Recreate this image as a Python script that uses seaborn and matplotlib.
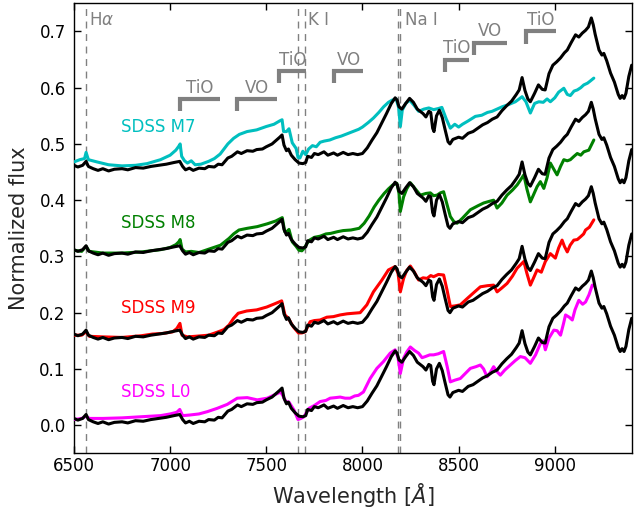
import matplotlib
matplotlib.use("Agg")
import matplotlib.pyplot as plt
import seaborn as sns
import numpy as np

# ---------------- data ----------------
# field spectrum (black), shown at the level of the L0 comparison
wave_obj = [6500, 6520, 6545, 6563, 6575, 6600, 6625, 6650, 6680, 6710, 6750, 6780, 6820, 6860,
            6900, 6940, 6980, 7020, 7050, 7065, 7080, 7100, 7120, 7150, 7180, 7200, 7230, 7250,
            7270, 7300, 7320, 7350, 7370, 7400, 7430, 7450, 7480, 7500, 7530, 7550, 7570, 7582,
            7592, 7605, 7615, 7630, 7650, 7670, 7690, 7705, 7715, 7735, 7750, 7770, 7800, 7820,
            7850, 7870, 7900, 7925, 7950, 7975, 8000, 8025, 8050, 8075, 8100, 8125, 8150, 8170,
            8180, 8190, 8205, 8225, 8245, 8265, 8285, 8300, 8315, 8330, 8345, 8355, 8365, 8372,
            8385, 8400, 8415, 8430, 8445, 8455, 8470, 8500, 8520, 8550, 8575, 8600, 8625, 8650,
            8675, 8700, 8725, 8750, 8775, 8800, 8815, 8830, 8845, 8860, 8873, 8895, 8915, 8935,
            8950, 8970, 8990, 9010, 9030, 9050, 9065, 9085, 9108, 9125, 9143, 9160, 9175, 9190,
            9200, 9210, 9230, 9245, 9255, 9270, 9290, 9310, 9330, 9340, 9350, 9360, 9370, 9385,
            9400]
flux_obj = [0.012, 0.009, 0.012, 0.019, 0.010, 0.006, 0.003, 0.006, 0.002, 0.005, 0.006, 0.004,
            0.008, 0.007, 0.010, 0.012, 0.014, 0.017, 0.019, 0.010, 0.004, 0.007, 0.003, 0.007,
            0.006, 0.010, 0.009, 0.014, 0.013, 0.025, 0.028, 0.036, 0.033, 0.038, 0.037, 0.040,
            0.041, 0.045, 0.050, 0.056, 0.062, 0.066, 0.048, 0.038, 0.041, 0.030, 0.022, 0.016,
            0.015, 0.017, 0.028, 0.026, 0.033, 0.031, 0.036, 0.030, 0.034, 0.030, 0.035, 0.031,
            0.033, 0.031, 0.033, 0.043, 0.057, 0.070, 0.087, 0.104, 0.122, 0.132, 0.128, 0.116,
            0.112, 0.122, 0.131, 0.124, 0.112, 0.108, 0.104, 0.098, 0.108, 0.106, 0.078, 0.072,
            0.100, 0.110, 0.097, 0.075, 0.054, 0.050, 0.058, 0.062, 0.060, 0.069, 0.072, 0.078,
            0.084, 0.088, 0.094, 0.098, 0.109, 0.118, 0.126, 0.138, 0.146, 0.168, 0.145, 0.130,
            0.125, 0.140, 0.155, 0.147, 0.146, 0.175, 0.190, 0.196, 0.203, 0.212, 0.217, 0.230,
            0.244, 0.240, 0.247, 0.252, 0.258, 0.274, 0.262, 0.245, 0.217, 0.208, 0.211, 0.198,
            0.176, 0.160, 0.138, 0.131, 0.136, 0.131, 0.140, 0.170, 0.190]
obj_offsets = [0.45, 0.30, 0.15, 0.0]

wave_m7 = [6500, 6530, 6555, 6563, 6575, 6620, 6680, 6750, 6820, 6880, 6950, 7000, 7030, 7045,
           7052, 7060, 7075, 7090, 7110, 7130, 7160, 7200, 7230, 7260, 7300, 7330, 7360, 7400,
           7450, 7500, 7540, 7570, 7582, 7590, 7605, 7618, 7635, 7655, 7665, 7675, 7690, 7705,
           7720, 7740, 7760, 7780, 7800, 7830, 7860, 7890, 7920, 7950, 7980, 8000, 8030, 8057,
           8085, 8110, 8135, 8155, 8175, 8188, 8197, 8207, 8225, 8245, 8270, 8292, 8320, 8345,
           8370, 8395, 8413, 8435, 8457, 8480, 8500, 8520, 8550, 8587, 8620, 8650, 8674, 8700,
           8726, 8760, 8795, 8815, 8830, 8850, 8873, 8895, 8917, 8940, 8960, 8977, 9000, 9020,
           9047, 9065, 9081, 9100, 9117, 9135, 9151, 9170, 9185, 9203]
flux_m7 = [0.468, 0.472, 0.474, 0.485, 0.472, 0.468, 0.463, 0.461, 0.462, 0.465, 0.472, 0.480,
           0.489, 0.496, 0.500, 0.478, 0.470, 0.466, 0.470, 0.463, 0.464, 0.469, 0.474, 0.482,
           0.500, 0.510, 0.517, 0.522, 0.525, 0.531, 0.535, 0.541, 0.543, 0.522, 0.522, 0.527,
           0.502, 0.492, 0.476, 0.475, 0.487, 0.481, 0.491, 0.497, 0.495, 0.503, 0.505, 0.507,
           0.511, 0.514, 0.518, 0.522, 0.526, 0.530, 0.538, 0.546, 0.556, 0.566, 0.574, 0.578,
           0.580, 0.565, 0.531, 0.560, 0.572, 0.578, 0.568, 0.558, 0.562, 0.564, 0.561, 0.563,
           0.565, 0.545, 0.528, 0.535, 0.530, 0.535, 0.541, 0.549, 0.551, 0.556, 0.558, 0.562,
           0.566, 0.570, 0.575, 0.580, 0.584, 0.575, 0.555, 0.572, 0.575, 0.574, 0.580, 0.575,
           0.582, 0.592, 0.599, 0.588, 0.586, 0.594, 0.596, 0.600, 0.605, 0.608, 0.612, 0.617]

wave_m8 = [6500, 6540, 6563, 6580, 6650, 6750, 6850, 6950, 7000, 7030, 7045, 7052, 7062, 7080,
           7110, 7150, 7210, 7262, 7306, 7330, 7358, 7401, 7453, 7505, 7549, 7583, 7596, 7610,
           7618, 7635, 7655, 7670, 7685, 7696, 7710, 7725, 7750, 7780, 7810, 7835, 7870, 7900,
           7940, 7983, 8009, 8035, 8061, 8085, 8113, 8135, 8157, 8179, 8190, 8197, 8214, 8230,
           8249, 8275, 8301, 8330, 8353, 8370, 8388, 8405, 8422, 8440, 8457, 8475, 8492, 8520,
           8561, 8600, 8630, 8660, 8682, 8700, 8725, 8752, 8780, 8804, 8820, 8839, 8855, 8873,
           8890, 8908, 8925, 8943, 8960, 8977, 8995, 9012, 9030, 9047, 9065, 9081, 9100, 9117,
           9135, 9151, 9177, 9190, 9203]
flux_m8 = [0.311, 0.309, 0.318, 0.309, 0.306, 0.306, 0.308, 0.312, 0.316, 0.321, 0.326, 0.330,
           0.313, 0.308, 0.309, 0.307, 0.314, 0.320, 0.332, 0.340, 0.347, 0.350, 0.353, 0.358,
           0.363, 0.369, 0.344, 0.345, 0.348, 0.326, 0.318, 0.311, 0.310, 0.314, 0.322, 0.329,
           0.334, 0.336, 0.340, 0.341, 0.344, 0.346, 0.347, 0.350, 0.359, 0.372, 0.388, 0.400,
           0.412, 0.420, 0.427, 0.430, 0.412, 0.380, 0.406, 0.420, 0.431, 0.420, 0.409, 0.412,
           0.413, 0.408, 0.409, 0.413, 0.415, 0.392, 0.371, 0.362, 0.359, 0.368, 0.383, 0.390,
           0.395, 0.398, 0.400, 0.386, 0.395, 0.409, 0.418, 0.427, 0.435, 0.445, 0.420, 0.397,
           0.410, 0.424, 0.433, 0.421, 0.440, 0.466, 0.455, 0.445, 0.460, 0.472, 0.470, 0.472,
           0.478, 0.483, 0.480, 0.486, 0.489, 0.498, 0.507]

wave_m9 = [6500, 6540, 6563, 6580, 6650, 6750, 6850, 6908, 6960, 7014, 7035, 7051, 7062, 7090,
           7130, 7200, 7250, 7280, 7306, 7330, 7354, 7398, 7450, 7502, 7545, 7580, 7597, 7615,
           7640, 7667, 7685, 7702, 7728, 7750, 7780, 7815, 7849, 7884, 7920, 7953, 7988, 8023,
           8057, 8080, 8101, 8135, 8170, 8185, 8197, 8214, 8230, 8249, 8270, 8292, 8315, 8336,
           8355, 8370, 8395, 8422, 8440, 8457, 8480, 8509, 8544, 8580, 8613, 8650, 8682, 8700,
           8725, 8752, 8780, 8804, 8839, 8855, 8873, 8890, 8908, 8930, 8951, 8977, 9003, 9020,
           9038, 9050, 9065, 9080, 9099, 9117, 9134, 9150, 9160, 9180, 9203]
flux_m9 = [0.160, 0.160, 0.166, 0.158, 0.157, 0.156, 0.159, 0.162, 0.163, 0.166, 0.172, 0.181,
           0.160, 0.157, 0.158, 0.160, 0.166, 0.170, 0.178, 0.190, 0.199, 0.203, 0.205, 0.210,
           0.216, 0.221, 0.196, 0.190, 0.175, 0.164, 0.164, 0.166, 0.184, 0.186, 0.187, 0.192,
           0.193, 0.196, 0.198, 0.199, 0.200, 0.214, 0.237, 0.248, 0.258, 0.276, 0.282, 0.270,
           0.237, 0.261, 0.275, 0.283, 0.272, 0.258, 0.262, 0.261, 0.266, 0.264, 0.268, 0.267,
           0.240, 0.211, 0.212, 0.214, 0.225, 0.236, 0.246, 0.248, 0.249, 0.237, 0.244, 0.252,
           0.265, 0.279, 0.291, 0.270, 0.249, 0.262, 0.276, 0.272, 0.291, 0.305, 0.297, 0.315,
           0.329, 0.318, 0.308, 0.320, 0.329, 0.330, 0.335, 0.340, 0.347, 0.352, 0.365]

wave_l0 = [6500, 6540, 6563, 6580, 6650, 6750, 6850, 6950, 7000, 7035, 7050, 7065, 7100, 7150,
           7193, 7245, 7297, 7349, 7401, 7453, 7505, 7549, 7575, 7590, 7601, 7618, 7644, 7665,
           7680, 7696, 7722, 7750, 7780, 7810, 7832, 7860, 7884, 7910, 7936, 7960, 7979, 8005,
           8040, 8075, 8109, 8144, 8170, 8185, 8197, 8214, 8230, 8249, 8270, 8292, 8310, 8327,
           8350, 8370, 8395, 8422, 8440, 8457, 8480, 8509, 8535, 8561, 8590, 8613, 8630, 8648,
           8665, 8682, 8700, 8717, 8740, 8769, 8795, 8821, 8845, 8873, 8900, 8925, 8940, 8951,
           8970, 8995, 9012, 9030, 9045, 9056, 9075, 9091, 9105, 9125, 9145, 9160, 9178, 9195,
           9203]
flux_l0 = [0.010, 0.012, 0.016, 0.012, 0.012, 0.013, 0.015, 0.017, 0.020, 0.023, 0.028, 0.017,
           0.018, 0.020, 0.024, 0.030, 0.037, 0.048, 0.049, 0.045, 0.048, 0.055, 0.059, 0.050,
           0.042, 0.041, 0.027, 0.010, 0.012, 0.015, 0.030, 0.035, 0.042, 0.044, 0.048, 0.049,
           0.050, 0.048, 0.048, 0.052, 0.053, 0.059, 0.083, 0.101, 0.113, 0.128, 0.134, 0.120,
           0.092, 0.119, 0.130, 0.139, 0.133, 0.128, 0.120, 0.122, 0.125, 0.125, 0.127, 0.131,
           0.105, 0.077, 0.080, 0.083, 0.092, 0.101, 0.104, 0.107, 0.100, 0.086, 0.094, 0.104,
           0.095, 0.089, 0.098, 0.107, 0.115, 0.122, 0.120, 0.110, 0.125, 0.145, 0.150, 0.134,
           0.155, 0.169, 0.168, 0.160, 0.180, 0.196, 0.192, 0.187, 0.205, 0.222, 0.215, 0.219,
           0.232, 0.249, 0.248]

template_names = ["SDSS M7", "SDSS M8", "SDSS M9", "SDSS L0"]
template_colors = ["#00bfbf", "#008000", "#ff0000", "#ff00ff"]
label_x = [6743, 6743, 6743, 6743]
label_y = [0.530, 0.360, 0.209, 0.059]

# spectral lines
line_names = [r"H$\alpha$", "K I", "Na I"]
line_waves = [[6563], [7665, 7699], [8183, 8195]]
line_text_x = [6580, 7715, 8222]

# molecular bands: start, end, level
band_names = ["TiO", "VO", "TiO", "VO", "TiO", "VO", "TiO"]
band_start = [7053, 7350, 7568, 7851, 8427, 8578, 8849]
band_end = [7257, 7555, 7705, 8005, 8552, 8752, 9004]
band_level = [0.580, 0.580, 0.630, 0.630, 0.650, 0.680, 0.700]

# ---------------- plot ----------------
sns.set_style("ticks")
plt.rcParams["font.family"] = ["DejaVu Sans"]
plt.rcParams["mathtext.fontset"] = "dejavusans"

fig = plt.figure(figsize=(6.41, 5.11), dpi=100)
ax = fig.add_axes([0.1154, 0.1129, 0.8701, 0.8806])

gray = "#808080"
for xs, name in zip(line_waves, line_names):
    for xv in xs:
        ax.axvline(xv, color=gray, lw=1.0, ls=(0, (5, 4)), zorder=1)
for tx, name in zip(line_text_x, line_names):
    ax.text(tx, 0.737, name, color=gray, fontsize=12, ha="left", va="top")

for name, x1, x2, lev in zip(band_names, band_start, band_end, band_level):
    ax.plot([x1, x1, x2], [lev - 0.022, lev, lev], color=gray, lw=3,
            solid_capstyle="butt", solid_joinstyle="miter", zorder=2)
    ax.text((x1 + x2) / 2, lev + 0.004, name, color=gray, fontsize=12,
            ha="center", va="bottom")

tmpl_waves = [wave_m7, wave_m8, wave_m9, wave_l0]
tmpl_fluxes = [flux_m7, flux_m8, flux_m9, flux_l0]
obj_w = np.array(wave_obj)
obj_f = np.array(flux_obj)
for w, f, c, off in zip(tmpl_waves, tmpl_fluxes, template_colors, obj_offsets):
    sns.lineplot(x=w, y=f, color=c, lw=2.2, ax=ax, sort=False, estimator=None, zorder=3)
    sns.lineplot(x=obj_w, y=obj_f + off, color="black", lw=2.2, ax=ax, sort=False,
                 estimator=None, zorder=4)

for name, c, lx, ly in zip(template_names, template_colors, label_x, label_y):
    ax.text(lx, ly, name, color=c, fontsize=12, ha="left", va="center")

ax.set_xlim(6500, 9400)
ax.set_ylim(-0.05, 0.75)
ax.set_xticks([6500, 7000, 7500, 8000, 8500, 9000])
ax.set_yticks([0.0, 0.1, 0.2, 0.3, 0.4, 0.5, 0.6, 0.7])
ax.tick_params(direction="in", top=True, right=True, length=5, width=1,
               labelsize=12, colors="black")
ax.tick_params(axis="x", pad=2.8)
ax.tick_params(axis="y", pad=6)
for sp in ax.spines.values():
    sp.set_visible(True)
    sp.set_color("black")
    sp.set_linewidth(1.0)
ax.set_xlabel("Wavelength [$Å$]", fontsize=15, labelpad=4)
ax.set_ylabel("Normalized flux", fontsize=15, labelpad=7.5)

fig.savefig("out.png", dpi=100)
